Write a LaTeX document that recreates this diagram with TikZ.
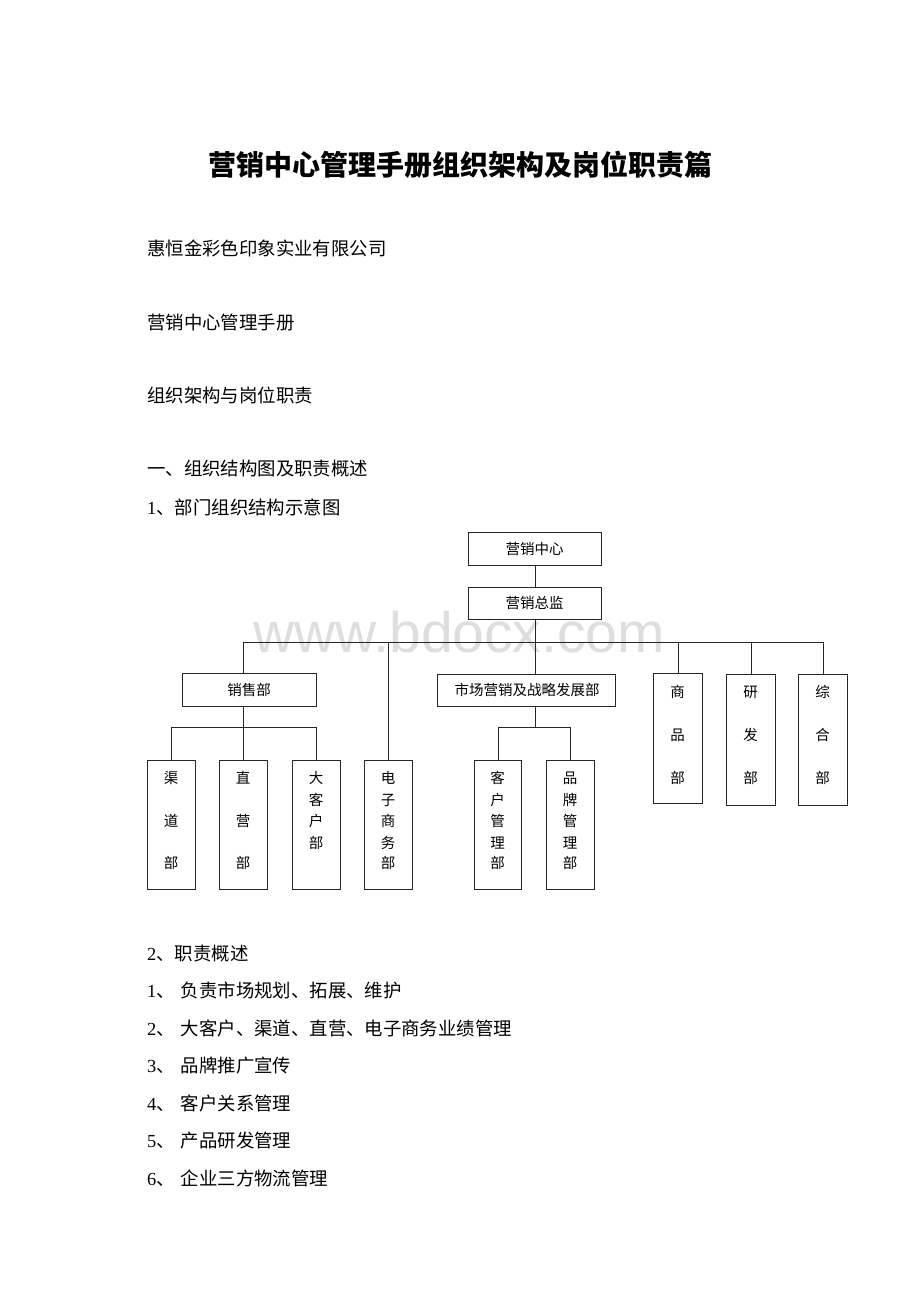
\documentclass[tikz,border=0pt]{standalone}
\usepackage{fontspec}
\setmainfont{Liberation Serif}
\newfontfamily\cjk{Noto Sans CJK SC}
\newfontfamily\wmfont{Liberation Sans}
\begin{document}
\begin{tikzpicture}[x=1pt,y=-1pt,
  box/.style={draw=black!85, line width=0.8pt, inner sep=0pt, anchor=north west},
  conn/.style={draw=black!85, line width=0.8pt},
  lab/.style={font=\cjk\fontsize{14.5}{17}\selectfont, anchor=base, inner sep=0pt},
  body/.style={font=\cjk\fontsize{18.4}{22}\selectfont, anchor=base west, inner sep=0pt},
  ttl/.style={font=\cjk\bfseries\fontsize{28}{34}\selectfont, anchor=base, inner sep=0pt},
  wm/.style={font=\wmfont\fontsize{57}{60}\selectfont, text=black!13, anchor=base west, inner sep=0pt, text height=40pt, text depth=0pt}]
\useasboundingbox[fill=white] (0,0) rectangle (920,1302);

% watermark
\node[wm] (wmark) at (253,652) {www.bdocx.com};

% title and body text
\node[ttl] (title) at (460,175) {营销中心管理手册组织架构及岗位职责篇};
\node[body] (t1) at (147,255) {惠恒金彩色印象实业有限公司};
\node[body] (t2) at (147,329) {营销中心管理手册};
\node[body] (t3) at (147,402) {组织架构与岗位职责};
\node[body] (t4) at (147,475) {一、组织结构图及职责概述};
\node[body] (t5) at (147,514) {{\rmfamily 1}、部门组织结构示意图};
\node[body] (t6) at (147,960) {{\rmfamily 2}、职责概述};
\node[body] (l1) at (147,997.5) {{\rmfamily 1}、\hspace{6pt}负责市场规划、拓展、维护};
\node[body] (l2) at (147,1035) {{\rmfamily 2}、\hspace{6pt}大客户、渠道、直营、电子商务业绩管理};
\node[body] (l3) at (147,1072.5) {{\rmfamily 3}、\hspace{6pt}品牌推广宣传};
\node[body] (l4) at (147,1110) {{\rmfamily 4}、\hspace{6pt}客户关系管理};
\node[body] (l5) at (147,1147.5) {{\rmfamily 5}、\hspace{6pt}产品研发管理};
\node[body] (l6) at (147,1185) {{\rmfamily 6}、\hspace{6pt}企业三方物流管理};

% chart boxes
\node[box, minimum width=133pt, minimum height=33pt] (zx) at (468,532) {};
\node[box, minimum width=133pt, minimum height=32pt] (zj) at (468,587) {};
\node[box, minimum width=134pt, minimum height=33pt] (xs) at (182,673) {};
\node[box, minimum width=178pt, minimum height=32pt] (sc) at (437,674) {};
\node[box, minimum width=49pt, minimum height=130pt] (sp) at (653,673) {};
\node[box, minimum width=49pt, minimum height=131pt] (yf) at (726,674) {};
\node[box, minimum width=49pt, minimum height=131pt] (zh) at (798,674) {};
\node[box, minimum width=48pt, minimum height=129pt] (qd) at (147,760) {};
\node[box, minimum width=48pt, minimum height=129pt] (zy) at (219,760) {};
\node[box, minimum width=48pt, minimum height=129pt] (dk) at (292,760) {};
\node[box, minimum width=48pt, minimum height=129pt] (dz) at (364,760) {};
\node[box, minimum width=47pt, minimum height=129pt] (kh) at (474,760) {};
\node[box, minimum width=48pt, minimum height=129pt] (pp) at (546,760) {};

% box labels
\node[lab] (zx-t) at (534.5,554.5) {营销中心};
\node[lab] (zj-t) at (534.5,608.5) {营销总监};
\node[lab] (xs-t) at (249,695) {销售部};
\node[lab] (sc-t) at (527,695.5) {市场营销及战略发展部};
\foreach \y/\c [count=\i] in {692/商,735/品,778/部} \node[lab] (sp-\i) at (677.5,\y+5.5) {\c};
\foreach \y/\c [count=\i] in {692/研,735/发,778/部} \node[lab] (yf-\i) at (750.5,\y+5.5) {\c};
\foreach \y/\c [count=\i] in {692/综,735/合,778/部} \node[lab] (zh-\i) at (822.5,\y+5.5) {\c};
\foreach \y/\c [count=\i] in {778/渠,820.5/道,863/部} \node[lab] (qd-\i) at (171,\y+5.5) {\c};
\foreach \y/\c [count=\i] in {778/直,820.5/营,863/部} \node[lab] (zy-\i) at (243,\y+5.5) {\c};
\foreach \y/\c [count=\i] in {778/大,799.5/客,821/户,842.5/部} \node[lab] (dk-\i) at (316,\y+5.5) {\c};
\foreach \y/\c [count=\i] in {778/电,799.5/子,821/商,842.5/务,863/部} \node[lab] (dz-\i) at (388,\y+5.5) {\c};
\foreach \y/\c [count=\i] in {778/客,799.5/户,821/管,842.5/理,863/部} \node[lab] (kh-\i) at (497.5,\y+5.5) {\c};
\foreach \y/\c [count=\i] in {778/品,799.5/牌,821/管,842.5/理,863/部} \node[lab] (pp-\i) at (570,\y+5.5) {\c};

% connectors
\coordinate (bus) at (243,642);
\coordinate (subL) at (171,727);
\coordinate (subR) at (497.5,727);
\draw[conn] (zx.south) -- (zj.north);
\draw[conn] (zj.south) -- (zj.south |- bus);
\draw[conn] (zy.north |- bus) -- (zh.north |- bus);
\draw[conn] (zy.north |- bus) -- (zy.north |- xs.north);
\draw[conn] (dz.north |- bus) -- (dz.north);
\draw[conn] (zj.south |- bus) -- (zj.south |- sc.north);
\draw[conn] (sp.north |- bus) -- (sp.north);
\draw[conn] (yf.north |- bus) -- (yf.north);
\draw[conn] (zh.north |- bus) -- (zh.north);
% sales group
\draw[conn] (zy.north |- xs.south) -- (zy.north);
\draw[conn] (qd.north |- subL) -- (dk.north |- subL);
\draw[conn] (qd.north |- subL) -- (qd.north);
\draw[conn] (dk.north |- subL) -- (dk.north);
% marketing group
\draw[conn] (zj.south |- sc.south) -- (zj.south |- subR);
\draw[conn] (kh.north |- subR) -- (pp.north |- subR);
\draw[conn] (kh.north |- subR) -- (kh.north);
\draw[conn] (pp.north |- subR) -- (pp.north);
\end{tikzpicture}
\end{document}
